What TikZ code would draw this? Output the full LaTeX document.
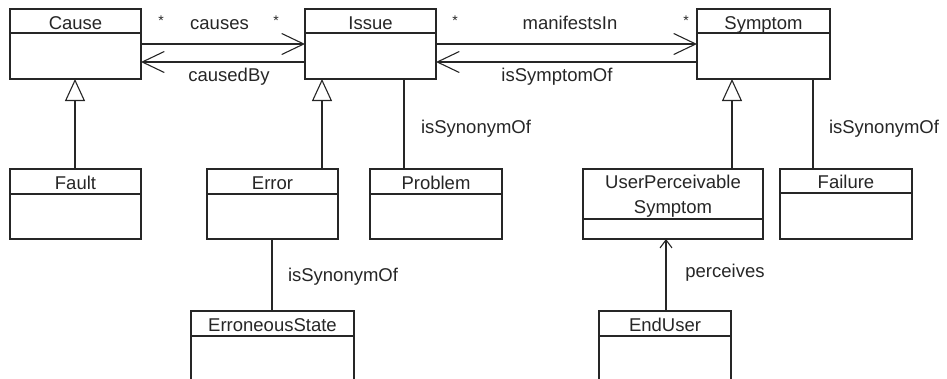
\documentclass[tikz,border=0pt]{standalone}
\usepackage{fontspec}
\setmainfont{Liberation Sans}
\usetikzlibrary{arrows.meta,calc}

% #1 name, #2 left, #3 top, #4 right, #5 bottom, #6 header bottom, #7 baseline of the last title line, #8 title
\newcommand\umlclass[8]{%
  \node[classbox, minimum width={#4-#2}, minimum height={#5-#3}] (#1) at ({(#2+#4)/2},{(#3+#5)/2}) {};
  \draw[ink] ($(#1.north west)+(0,#6-#3)$) -- ($(#1.north east)+(0,#6-#3)$);
  \node[title] (#1-name) at ({(#2+#4)/2},#7) {#8};
}

\begin{document}
\begin{tikzpicture}[x=1pt,y=-1pt,
  ink/.style={line width=1.1pt, draw=black!85},
  classbox/.style={ink, rectangle, inner sep=0pt, outer sep=0pt, fill=white},
  title/.style={font=\fontsize{18.5}{25}\selectfont, text=black!85, inner sep=0pt, anchor=base, align=center},
  lbl/.style={font=\fontsize{18.5}{25}\selectfont, text=black!85, inner sep=0pt, anchor=base},
  mult/.style={font=\fontsize{14}{16}\selectfont, text=black!85, inner sep=0pt, anchor=base},
  assoc/.style={ink, -{Straight Barb[length=22pt,width=21pt]}},
  gen/.style={ink, -{Triangle[open,length=22pt,width=20pt,fill=white]}},
  nav/.style={ink, -{Straight Barb[length=8pt,width=12pt]}},
]
\useasboundingbox (0,0) rectangle (947,378);
\clip (0,0) rectangle (947,378);

% classes
\umlclass{cause}{10}{9}{141}{79}{33}{29}{Cause}
\umlclass{issue}{305}{9}{436}{79}{33}{29}{Issue}
\umlclass{symptom}{697}{9}{830}{79}{33}{29}{Symptom}
\umlclass{fault}{10}{169}{141}{239}{194}{189}{Fault}
\umlclass{error}{207}{169}{338}{239}{194}{189}{Error}
\umlclass{problem}{370}{169}{502}{239}{194}{189}{Problem}
\umlclass{ups}{583}{169}{763}{239}{219}{213}{UserPerceivable\\Symptom}
\umlclass{failure}{780}{169}{912}{239}{193}{188}{Failure}
\umlclass{erroneous}{191}{311}{354}{400}{336}{331}{ErroneousState}
\umlclass{enduser}{599}{311}{731}{400}{336}{331}{EndUser}

% associations between the top row
\draw[assoc] ($(cause.north east)+(0,35)$) -- ($(issue.north west)+(0,35)$);
\draw[assoc] ($(issue.north west)+(0,53)$) -- ($(cause.north east)+(0,53)$);
\draw[assoc] ($(issue.north east)+(0,35)$) -- ($(symptom.north west)+(0,35)$);
\draw[assoc] ($(symptom.north west)+(0,53)$) -- ($(issue.north east)+(0,53)$);

\node[mult] (m1) at (161,25) {*};
\node[lbl] (l1) at (219.5,29) {causes};
\node[mult] (m2) at (276,25) {*};
\node[lbl] (l2) at (229,81) {causedBy};
\node[mult] (m3) at (455,25) {*};
\node[lbl] (l3) at (570,29) {manifestsIn};
\node[mult] (m4) at (686,25) {*};
\node[lbl] (l4) at (557,81) {isSymptomOf};

% generalizations
\draw[gen] ($(fault.north west)+(65,0)$) -- ($(cause.south west)+(65,0)$);
\draw[gen] ($(error.north west)+(115,0)$) -- ($(issue.south west)+(17,0)$);
\draw[gen] ($(ups.north west)+(149,0)$) -- ($(symptom.south west)+(35,0)$);

% synonyms
\draw[ink] ($(issue.south west)+(99,0)$) -- ($(problem.north west)+(34,0)$);
\node[lbl] (s1) at (476,133) {isSynonymOf};
\draw[ink] ($(symptom.south west)+(116,0)$) -- ($(failure.north west)+(33,0)$);
\node[lbl] (s2) at (884,133) {isSynonymOf};
\draw[ink] ($(error.south west)+(65,0)$) -- ($(erroneous.north west)+(81,0)$);
\node[lbl] (s3) at (343,281) {isSynonymOf};

% navigable association
\draw[nav] ($(enduser.north west)+(67,0)$) -- ($(ups.south west)+(83,0)$);
\node[lbl] (p1) at (725,277) {perceives};
\end{tikzpicture}
\end{document}
